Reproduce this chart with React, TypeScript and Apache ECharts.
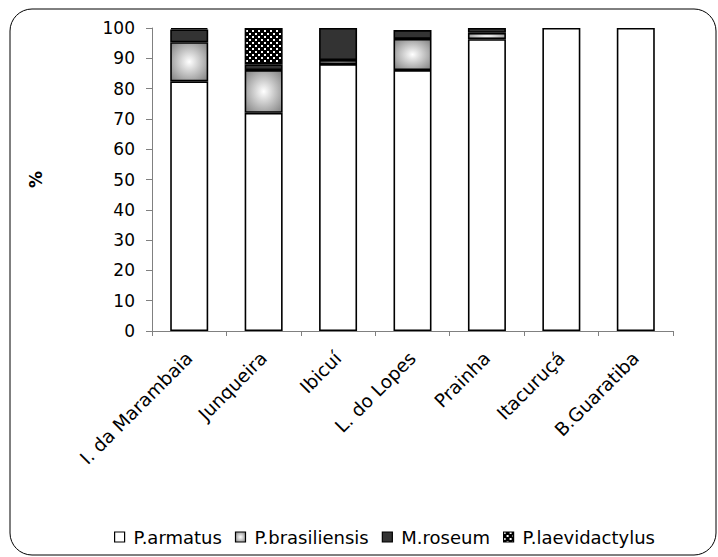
import React, { useEffect, useRef } from "react";
import * as echarts from "echarts";

const categories = [
  "I. da Marambaia",
  "Junqueira",
  "Ibicuí",
  "L. do Lopes",
  "Prainha",
  "Itacuruçá",
  "B.Guaratiba",
];

const seriesNames = ["P.armatus", "P.brasiliensis", "M.roseum", "P.laevidactylus"];

// percentage of each species per site (null = absent)
const armatus = [82.4, 72.0, 88.1, 86.1, 96.3, 100, 100];
const brasiliensis = [12.9, 14.1, 1.3, 10.3, 2.1, null, null];
const roseum = [4.2, 1.9, 10.6, 2.9, 1.6, null, null];
const laevidactylus = [0.5, 12.0, null, null, null, null, null];

const yTicks = { min: 0, max: 100, interval: 10 };

const FONT = "'DejaVu Sans', 'Liberation Sans', Arial, sans-serif";

function makeDotPattern(): HTMLCanvasElement {
  const c = document.createElement("canvas");
  c.width = 6;
  c.height = 6;
  const ctx = c.getContext("2d")!;
  ctx.fillStyle = "#000";
  ctx.fillRect(0, 0, 6, 6);
  ctx.fillStyle = "#fff";
  ctx.fillRect(0, 0, 2, 2);
  ctx.fillRect(3, 3, 2, 2);
  return c;
}

export default function App() {
  const ref = useRef<HTMLDivElement>(null);

  useEffect(() => {
    if (!ref.current) return;
    const chart = echarts.init(ref.current, undefined, { renderer: "svg" });

    const gradientFill = {
      type: "radial",
      x: 0.5,
      y: 0.5,
      r: 0.75,
      colorStops: [
        { offset: 0, color: "#ffffff" },
        { offset: 1, color: "#777777" },
      ],
    };
    const dotFill = { image: makeDotPattern(), repeat: "repeat" };

    const fills: any[] = ["#ffffff", gradientFill, "#333333", dotFill];
    const values = [armatus, brasiliensis, roseum, laevidactylus];

    chart.setOption({
      animation: false,
      textStyle: { fontFamily: FONT, color: "#000" },
      graphic: [
        {
          type: "rect",
          shape: { x: 10, y: 9, width: 706, height: 546, r: 22 },
          style: { fill: "none", stroke: "#000", lineWidth: 1 },
          silent: true,
        },
      ],
      grid: { left: 152, right: 45, top: 28, bottom: 226, containLabel: false },
      legend: {
        data: seriesNames,
        left: 109,
        top: 523,
        itemWidth: 10,
        itemHeight: 10,
        itemGap: 13,
        icon: "rect",
        itemStyle: { borderColor: "#000", borderWidth: 1.2 },
        textStyle: { fontFamily: FONT, fontSize: 18, color: "#000", padding: [0, 0, 0, 4] },
      },
      xAxis: {
        type: "category",
        data: categories,
        axisLine: { lineStyle: { color: "#808080", width: 1 } },
        axisTick: { show: true, length: 5, lineStyle: { color: "#808080" } },
        axisLabel: {
          rotate: 45,
          fontSize: 18.5,
          color: "#000",
          fontFamily: FONT,
          margin: 24,
          interval: 0,
        },
      },
      yAxis: {
        type: "value",
        min: yTicks.min,
        max: yTicks.max,
        interval: yTicks.interval,
        name: "%",
        nameLocation: "middle",
        nameRotate: 90,
        nameGap: 108,
        nameTextStyle: { fontSize: 17, fontWeight: "bold", color: "#000", fontFamily: FONT },
        axisLine: { show: true, lineStyle: { color: "#808080", width: 1 } },
        axisTick: { show: true, length: 6, lineStyle: { color: "#808080" } },
        splitLine: { show: false },
        axisLabel: { fontSize: 17, color: "#000", fontFamily: FONT, margin: 17 },
      },
      series: seriesNames.map((name, i) => ({
        name,
        type: "bar",
        stack: "total",
        barWidth: 38,
        data: values[i],
        itemStyle: { color: fills[i], borderColor: "#000", borderWidth: 1.6 },
        emphasis: { disabled: true },
      })),
    });

    return () => chart.dispose();
  }, []);

  return (
    <div
      ref={ref}
      style={{ position: "fixed", left: 0, top: 0, width: 718, height: 557, background: "#fff" }}
    />
  );
}
